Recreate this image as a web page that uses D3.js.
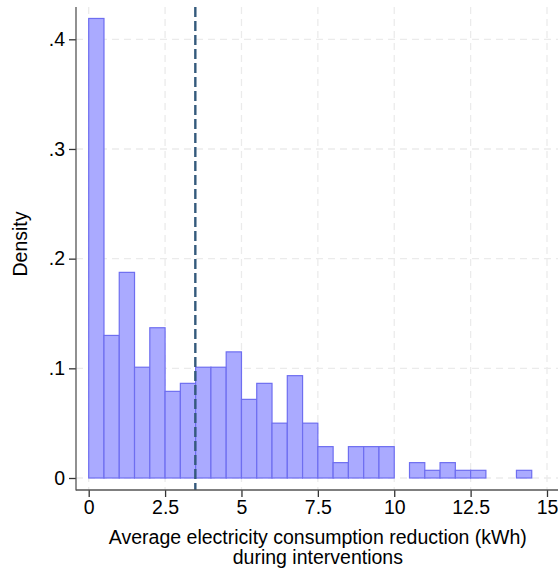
<!DOCTYPE html>
<html><head><meta charset="utf-8">
<script src="https://cdn.jsdelivr.net/npm/d3@7"></script>
<style>body{margin:0;background:#fff;} text{font-family:"Liberation Sans",Arial,sans-serif;fill:#000;}</style>
</head><body><svg id="c" width="558" height="573"></svg>
<script>
const binStarts = [0,0.5,1,1.5,2,2.5,3,3.5,4,4.5,5,5.5,6,6.5,7,7.5,8,8.5,9,9.5,10,10.5,11,11.5,12,12.5,13,13.5,14];
const densities = [0.419,0.130,0.1875,0.101,0.137,0.079,0.0863,0.101,0.101,0.115,0.0717,0.0863,0.050,0.0933,0.050,0.0286,0.014,0.0286,0.0286,0.0286,0,0.014,0.007,0.014,0.007,0.007,0,0,0.007];
const binWidth = 0.5;
const meanLine = 3.49;
const xTicks = [0,2.5,5,7.5,10,12.5,15];
const xTickLabels = ["0","2.5","5","7.5","10","12.5","15"];
const yTicks = [0,0.1,0.2,0.3,0.4];
const yTickLabels = ["0",".1",".2",".3",".4"];
const xTitle = ["Average electricity consumption reduction (kWh)","during interventions"];
const yTitle = "Density";

const svg = d3.select("#c");
const x = d3.scaleLinear().domain([0,15]).range([88.7,547]);
const y = d3.scaleLinear().domain([0,0.4]).range([478,39.3]);
const L = 76, B = 490, T = 7, R = 558;
const fs = 19.5;

// grid
const g = svg.append("g");
g.selectAll("line.h").data(yTicks).join("line")
  .attr("x1",L).attr("x2",R).attr("y1",d=>y(d)).attr("y2",d=>y(d))
  .attr("stroke","#ebebeb").attr("stroke-width",1.3).attr("stroke-dasharray","7,5");
g.selectAll("line.v").data(xTicks).join("line")
  .attr("y1",T).attr("y2",B).attr("x1",d=>x(d)).attr("x2",d=>x(d))
  .attr("stroke","#ebebeb").attr("stroke-width",1.3).attr("stroke-dasharray","7,5");

// bars
svg.append("g").selectAll("rect").data(binStarts.map((s,i)=>({s,d:densities[i]})).filter(b=>b.d>0)).join("rect")
  .attr("x",b=>x(b.s)).attr("width",b=>x(b.s+binWidth)-x(b.s))
  .attr("y",b=>y(b.d)).attr("height",b=>y(0)-y(b.d))
  .attr("fill","#aaaaff").attr("stroke","#6e6ef0").attr("stroke-width",1.2);

// mean line
svg.append("line").attr("x1",x(meanLine)).attr("x2",x(meanLine)).attr("y1",T).attr("y2",B)
  .attr("stroke","#345a7c").attr("stroke-width",2.4).attr("stroke-dasharray","10,4");

// axes
const ya = svg.append("g").attr("transform",`translate(${L},0)`)
  .call(d3.axisLeft(y).tickValues(yTicks).tickFormat((d,i)=>yTickLabels[i]).tickSize(7).tickPadding(4));
const xa = svg.append("g").attr("transform",`translate(0,${B})`)
  .call(d3.axisBottom(x).tickValues(xTicks).tickFormat((d,i)=>xTickLabels[i]).tickSize(7).tickPadding(3));
[ya,xa].forEach(a=>{a.select(".domain").remove(); a.selectAll(".tick line").attr("stroke","#333").attr("stroke-width",1.3);
  a.selectAll(".tick text").style("font-size",fs+"px").attr("fill","#000");});
svg.append("line").attr("x1",L).attr("x2",L).attr("y1",T).attr("y2",B+0.6).attr("stroke","#555").attr("stroke-width",1.3);
svg.append("line").attr("x1",L).attr("x2",R).attr("y1",B).attr("y2",B).attr("stroke","#555").attr("stroke-width",1.3);

svg.selectAll("text.xt").data(xTitle).join("text").attr("class","xt")
  .attr("x",(x(0)+x(15))/2).attr("y",(d,i)=>544+i*20).attr("text-anchor","middle").style("font-size",fs+"px").text(d=>d);
svg.append("text").attr("transform",`translate(27,244) rotate(-90)`).attr("text-anchor","middle")
  .style("font-size",fs+"px").text(yTitle);
</script></body></html>
